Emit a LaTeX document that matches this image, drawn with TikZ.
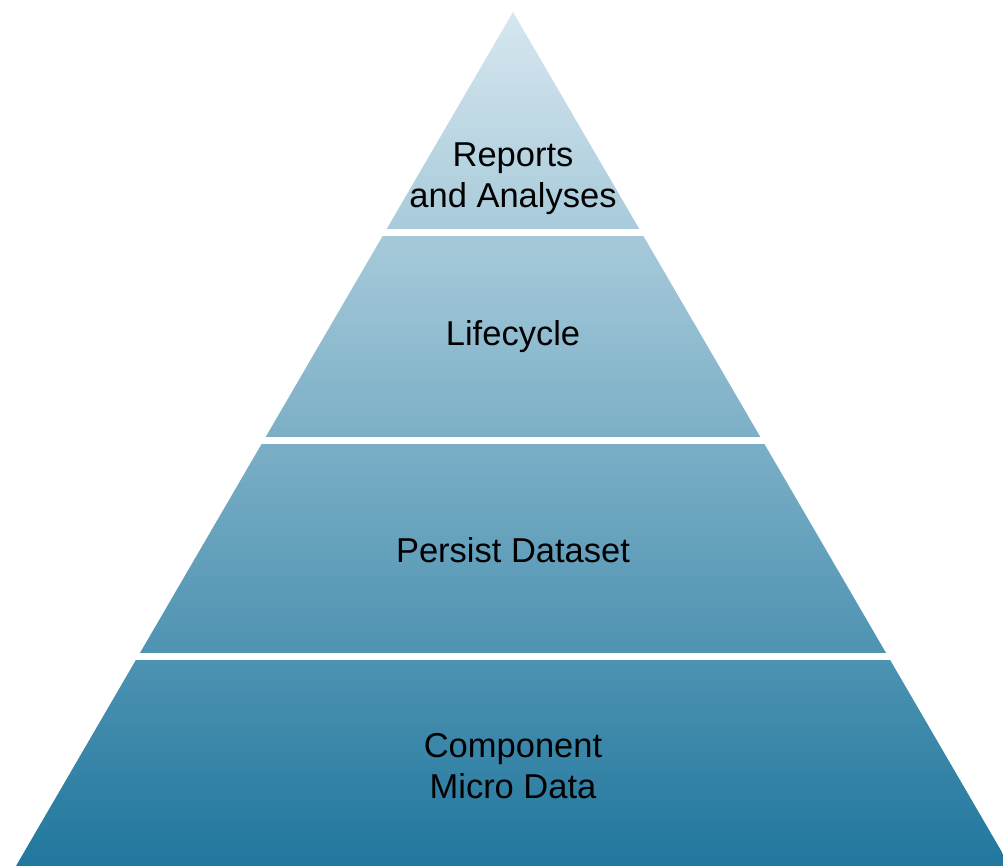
\documentclass[tikz,border=0pt]{standalone}
\usepackage{fontspec}
\setmainfont{Liberation Sans}
\definecolor{pyrtop}{RGB}{214,231,239}
\definecolor{pyrbot}{RGB}{33,119,158}
\begin{document}
\begin{tikzpicture}[x=1pt,y=1pt,
  lbl/.style={align=center,text=black,font=\fontsize{34.5}{41}\selectfont},
  gap/.style={fill=white,draw=none}]
\useasboundingbox (0,0) rectangle (1003,866);
\clip (0,0) rectangle (1003,866);
% pyramid with continuous gradient
\shade[top color=pyrtop,bottom color=pyrbot] (513,854) -- (1010,0) -- (16,0) -- cycle;
% white separators
\fill[gap] (0,630) rectangle (1003,637);
\fill[gap] (0,422) rectangle (1003,429);
\fill[gap] (0,206) rectangle (1003,213);
% labels
\node[lbl] (reports) at (513,687) {Reports\\and Analyses};
\node[lbl] (lifecycle) at (513,529) {Lifecycle};
\node[lbl] (persist) at (513,316) {Persist Dataset};
\node[lbl] (component) at (513,100) {Component\\Micro Data};
\end{tikzpicture}
\end{document}
